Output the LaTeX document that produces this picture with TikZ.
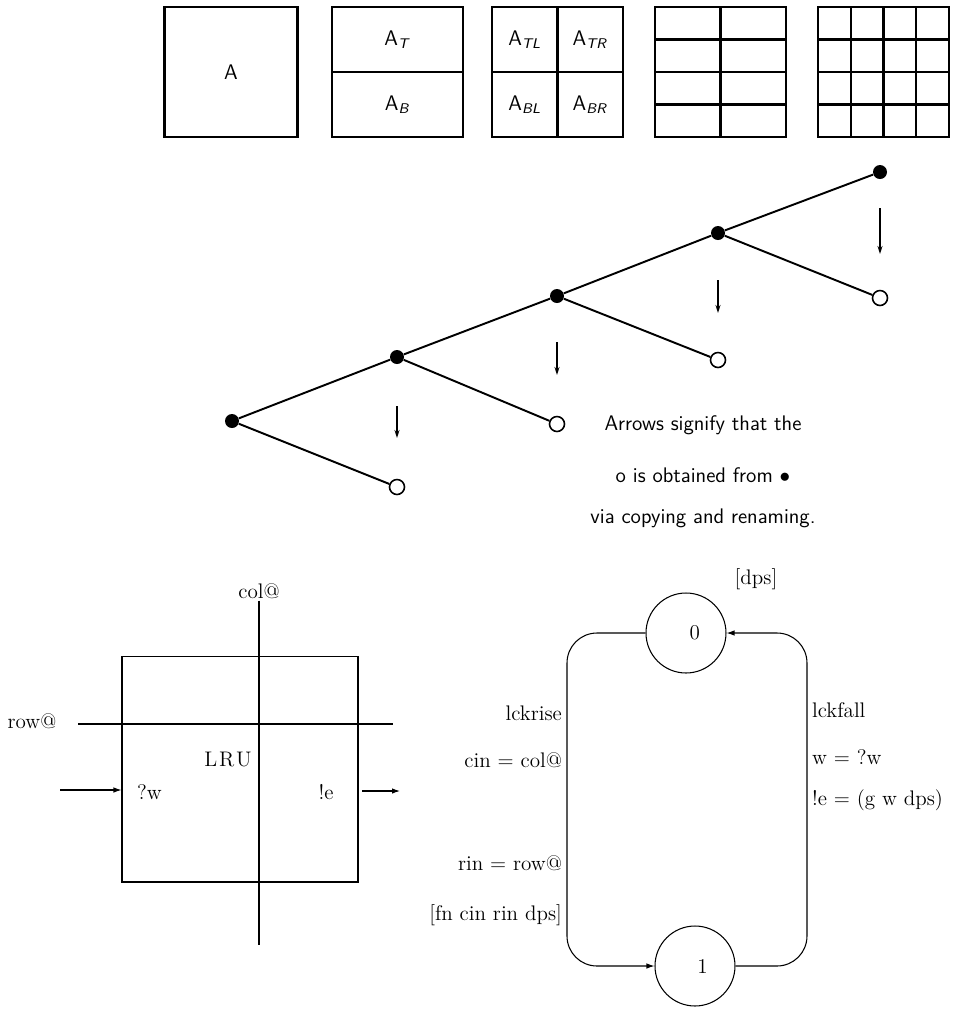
\documentclass[tikz,border=0pt]{standalone}
\usepackage{amsmath}
\usepackage{tikz}
\usetikzlibrary{arrows.meta, positioning}

\begin{document}
\begin{tikzpicture}[
    x=0.02cm, y=-0.02cm,
    cell/.style={
        rectangle,
        draw,
        line width=1.3pt,
        inner sep=0pt,
        font=\sffamily\large
    },
    grid/.style={line width=1.3pt},
    dot/.style={circle, fill, inner sep=0pt, minimum size=0.28cm},
    hole/.style={circle, draw, line width=0.9pt, inner sep=0pt, minimum size=0.3cm},
    edge/.style={line width=1.1pt},
    down/.style={-{Stealth[length=1.6mm, width=1mm]}, line width=0.8pt},
    note/.style={font=\sffamily\large},
    lbl/.style={font=\fontsize{12}{14}\selectfont, inner sep=1pt},
    state/.style={circle, draw, line width=0.6pt, minimum size=1.6cm, inner sep=0pt, font=\fontsize{12}{14}\selectfont},
    arr/.style={-{Latex[length=1.6mm, width=1.1mm]}, line width=0.6pt}
]
\useasboundingbox (0,0) rectangle (960,1009);

% successive splitting of A
\node[cell, minimum width=2.66cm, minimum height=2.6cm] (a)   at (231,72)      {A};
\node[cell, minimum width=2.62cm, minimum height=1.3cm] (at)  at (397.5,39.5)  {A\textsubscript{\textit{T}}};
\node[cell, minimum width=2.62cm, minimum height=1.3cm] (ab)  at (397.5,104.5) {A\textsubscript{\textit{B}}};
\node[cell, minimum width=1.31cm, minimum height=1.3cm] (atl) at (524.75,39.5)  {A\textsubscript{\textit{TL}}};
\node[cell, minimum width=1.31cm, minimum height=1.3cm] (atr) at (590.25,39.5)  {A\textsubscript{\textit{TR}}};
\node[cell, minimum width=1.31cm, minimum height=1.3cm] (abl) at (524.75,104.5) {A\textsubscript{\textit{BL}}};
\node[cell, minimum width=1.31cm, minimum height=1.3cm] (abr) at (590.25,104.5) {A\textsubscript{\textit{BR}}};

\draw[grid] (655,7) rectangle (786,137)
    (720.5,7) -- (720.5,137)
    (655,39.5) -- (786,39.5) (655,72) -- (786,72) (655,104.5) -- (786,104.5);
\draw[grid] (818,7) rectangle (949,137)
    (850.75,7) -- (850.75,137) (883.5,7) -- (883.5,137) (916.25,7) -- (916.25,137)
    (818,39.5) -- (949,39.5) (818,72) -- (949,72) (818,104.5) -- (949,104.5);

% copying tree
\node[dot]  (d1) at (232,421) {};
\node[dot]  (d2) at (397,357) {};
\node[dot]  (d3) at (557,296) {};
\node[dot]  (d4) at (718,233) {};
\node[dot]  (d5) at (880,172) {};
\node[hole] (o1) at (397,487) {};
\node[hole] (o2) at (557,424) {};
\node[hole] (o3) at (718,360) {};
\node[hole] (o4) at (880,298) {};

\draw[edge] (d1) -- (d2) -- (d3) -- (d4) -- (d5);
\draw[edge] (d1) -- (o1) (d2) -- (o2) (d3) -- (o3) (d4) -- (o4);

\coordinate (u1) at (397,406); \coordinate (v1) at (397,438);
\coordinate (u2) at (557,342); \coordinate (v2) at (557,375);
\coordinate (u3) at (718,280); \coordinate (v3) at (718,313);
\coordinate (u4) at (880,208); \coordinate (v4) at (880,254);
\draw[down] (u1) -- (v1);
\draw[down] (u2) -- (v2);
\draw[down] (u3) -- (v3);
\draw[down] (u4) -- (v4);

\node[note] (n1) at (703,425) {Arrows signify that the};
\node[note] (n2) at (703,475) {o is obtained from $\bullet$};
\node[note] (n3) at (703,518) {via copying and renaming.};

% LRU cell
\node[draw, line width=0.6pt, minimum width=4.72cm, minimum height=4.52cm] (lru) at (240,769) {};
\node[lbl] (lrut) at (228,760) {L\kern1pt R\kern1pt U};
\node[lbl] (col)  at (259,591) {col@};
\node[lbl] (row)  at (32,721)  {row@};
\node[lbl, anchor=west] (qw) at (135,792) {?w};
\node[lbl] (ex)   at (326,792) {!e};

\coordinate (colend) at (259,945);
\coordinate (rowa) at (78,724);
\coordinate (rowb) at (393,724);
\coordinate (win)  at (60,790);
\coordinate (eo)   at (362,791);
\coordinate (eout) at (400,791);
\draw[line width=0.6pt] (col) -- (colend);
\draw[line width=0.6pt] (rowa) -- (rowb);
\draw[arr] (win) -- (lru.west |- win);
\draw[arr] (eo) -- (eout);

% two-state machine
\node[state] (s0) at (686,633) {\hspace*{0.35cm}0};
\node[state] (s1) at (695,966) {\hspace*{0.3cm}1};
\node[lbl]   (dps) at (756,579) {[dps]};

\coordinate (lft) at (567,800);
\coordinate (rgt) at (807,800);
\draw[arr, rounded corners=0.6cm] (s0.west) -| (lft) |- (s1.west);
\draw[arr, rounded corners=0.6cm] (s1.east) -| (rgt) |- (s0.east);

\node[lbl, anchor=east] (rise) at (564,713) {lckrise};
\node[lbl, anchor=east] (cin)  at (564,760) {cin = col@};
\node[lbl, anchor=east] (rin)  at (564,863) {rin = row@};
\node[lbl, anchor=east] (fn)   at (564,915) {[fn cin rin dps]};
\node[lbl, anchor=west] (fall) at (810,710) {lckfall};
\node[lbl, anchor=west] (wq)   at (810,757) {w = ?w};
\node[lbl, anchor=west] (eq)   at (810,800) {!e = (g w dps)};

\end{tikzpicture}
\end{document}
